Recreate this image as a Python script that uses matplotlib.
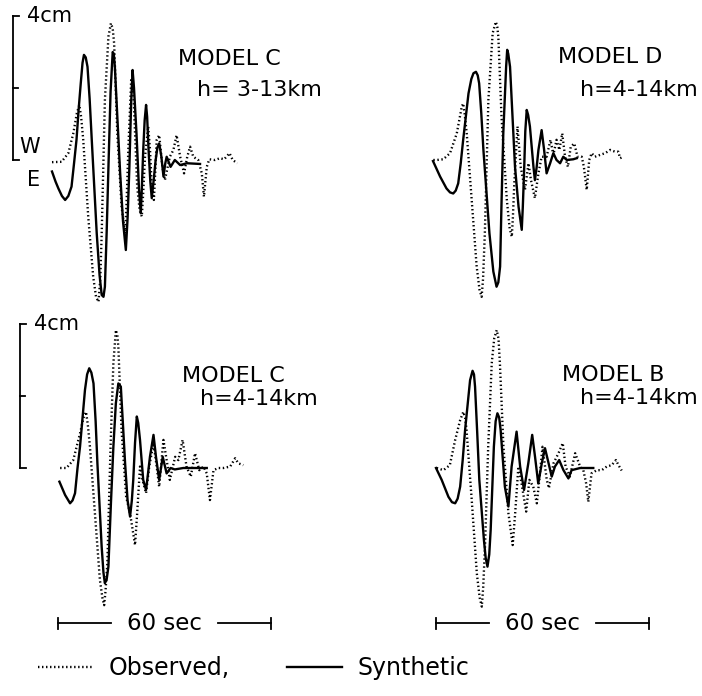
import numpy as np
import matplotlib.pyplot as plt
from matplotlib.lines import Line2D

# figure size in px, and the drawing scale of the traces
W, H = 702, 696
SX = 213 / 60.0   # px per second
SY = 36.0         # px per cm

# ---- Model C, h=3-13km  (time in s, displacement in cm) ----
c1_syn_t = [0, 1.0, 1.8, 2.8, 3.7, 4.6, 5.5, 6.2, 6.9, 7.5, 8.1, 8.6, 9.0, 9.5, 10.0, 10.6, 11.2,
            12.6, 13.4, 14.0, 14.5, 14.9, 15.4, 15.9, 16.5, 17.1, 17.4, 17.7, 18.4, 19.2, 20.0,
            20.8, 21.3, 21.8, 22.3, 22.7, 23.1, 23.8, 24.5, 25.0, 25.3, 25.7, 26.1, 26.5, 26.8,
            27.2, 27.7, 28.1, 28.6, 29.2, 29.7, 30.2, 30.8, 31.4, 31.9, 32.3, 33.4, 34.6, 36.1,
            38.0, 41.7]
c1_syn_a = [-0.32, -0.6, -0.79, -1.0, -1.11, -1.0, -0.74, -0.1, 0.56, 1.4, 2.13, 2.7, 2.92, 2.85,
            2.59, 1.7, 0.56, -2.04, -3.2, -3.75, -3.8, -3.52, -2.0, -0.19, 1.9, 3.0, 2.95, 2.6,
            1.2, -0.37, -1.7, -2.5, -1.6, -0.19, 1.6, 2.5, 2.0, 0.74, -0.8, -1.48, -0.8, 0.28,
            1.1, 1.53, 1.2, 0.28, -0.6, -1.06, -0.6, 0.0, 0.35, 0.46, 0.1, -0.46, -0.1, 0.09,
            -0.19, 0.0, -0.14, -0.09, -0.11]
c1_obs_t = [0, 2.7, 4.6, 6.0, 7.0, 7.7, 8.2, 8.8, 9.5, 10.2, 11.6, 12.4, 13.1, 13.6, 14.0, 14.9,
            15.9, 16.6, 17.1, 17.5, 18.4, 19.6, 20.6, 21.0, 21.5, 22.3, 22.7, 23.1, 24.0, 24.7,
            25.3, 25.7, 26.2, 27.1, 27.6, 28.1, 28.7, 29.1, 29.5, 30.2, 31.1, 31.8, 33.2, 34.2,
            35.1, 36.1, 37.2, 38.1, 38.9, 39.8, 41.2, 42.2, 42.8, 43.6, 44.3, 45.9, 47.3, 48.5,
            50.0, 50.9, 52.2]
c1_obs_a = [-0.06, -0.05, 0.19, 0.74, 1.3, 1.53, 1.2, 0.56, -0.5, -1.57, -3.24, -3.8, -3.94,
            -3.3, -2.04, 1.67, 3.43, 3.80, 3.65, 3.24, 0.74, -1.30, -2.04, -1.2, 0.28, 2.22, 2.1,
            1.48, -0.74, -1.4, -1.57, -0.9, 0.09, 0.93, 0.3, -0.74, -1.11, -0.3, 0.56, 0.69,
            -0.19, -0.56, 0.09, 0.28, 0.69, 0.09, -0.37, 0.09, 0.37, 0.09, 0.0, -0.37, -1.02,
            -0.19, 0.02, 0.0, 0.05, 0.02, 0.19, 0.0, -0.09]

# ---- Model D, h=4-14km ----
d_syn_t = [0, 2.0, 3.8, 4.8, 5.7, 6.4, 7.1, 7.8, 8.5, 10.0, 10.8, 11.4, 12.1, 12.6, 13.0, 13.6,
           14.2, 15.9, 17.0, 17.9, 18.4, 18.9, 19.3, 19.8, 20.6, 20.9, 21.2, 21.7, 22.4, 23.1,
           24.1, 25.0, 25.3, 25.7, 26.0, 26.4, 26.8, 27.3, 28.3, 28.7, 29.2, 29.7, 30.6, 31.3,
           32.0, 33.0, 33.9, 34.8, 35.8, 36.7, 37.7, 39.5, 40.5]
d_syn_a = [-0.03, -0.46, -0.79, -0.9, -0.93, -0.85, -0.65, -0.1, 0.56, 1.85, 2.25, 2.41, 2.45,
           2.35, 2.13, 1.3, 0.28, -2.04, -3.1, -3.52, -3.4, -2.96, -1.2, 0.74, 2.59, 3.06, 2.95,
           2.59, 1.2, -0.19, -1.3, -1.94, -1.3, -0.19, 0.8, 1.39, 1.25, 0.93, -0.19, -0.56, -0.2,
           0.28, 0.83, 0.28, -0.37, -0.09, 0.19, 0.0, -0.09, 0.09, 0.0, 0.02, 0.05]
d_obs_t = [0.1, 1.0, 2.9, 4.8, 6.7, 8.1, 8.5, 8.9, 9.5, 10.9, 12.3, 13.1, 13.7, 14.1, 14.6, 15.6,
           16.8, 17.7, 18.1, 18.4, 19.3, 20.8, 21.6, 22.2, 22.5, 22.9, 23.8, 24.7, 25.9, 26.9,
           27.6, 28.7, 29.7, 30.6, 32.0, 33.1, 33.9, 34.8, 35.6, 36.4, 37.2, 38.0, 38.8, 39.8,
           40.7, 41.9, 42.5, 43.3, 44.0, 44.7, 45.6, 47.0, 48.5, 49.9, 51.3, 52.2, 52.7, 53.6]
d_obs_a = [0.0, 0.0, 0.02, 0.19, 0.74, 1.48, 1.57, 1.3, 0.74, -1.11, -2.96, -3.6, -3.80, -3.3,
           -2.04, 1.67, 3.52, 3.84, 3.7, 3.43, 1.20, -1.11, -1.9, -2.13, -1.6, -0.65, 0.93, -0.19,
           -0.83, -0.09, -0.56, -1.06, -0.37, 0.09, 0.09, 0.56, 0.14, 0.56, 0.28, 0.74, 0.09,
           -0.19, 0.37, 0.46, 0.09, 0.09, -0.19, -0.83, 0.0, 0.19, 0.09, 0.14, 0.19, 0.28, 0.23,
           0.23, 0.05, 0.09]

# ---- Model C, h=4-14km ----
c2_syn_t = [0.4, 2.0, 3.4, 4.1, 4.8, 5.5, 6.2, 7.6, 8.2, 8.8, 9.4, 10.0, 10.6, 11.1, 12.3, 12.8,
            13.2, 13.7, 14.2, 14.9, 15.6, 16.3, 17.0, 17.7, 18.3, 18.9, 19.6, 20.3, 20.8, 21.2,
            21.7, 22.2, 22.6, 23.1, 24.0, 24.8, 25.3, 25.9, 26.9, 27.6, 28.5, 29.5, 30.6, 31.7,
            32.9, 35.3, 39.1, 41.9]
c2_syn_a = [-0.38, -0.75, -0.98, -0.9, -0.70, 0.0, 0.59, 2.17, 2.6, 2.77, 2.65, 2.35, 1.3, 0.13,
            -2.19, -2.9, -3.20, -3.1, -2.74, -1.0, 0.59, 1.8, 2.35, 2.26, 1.2, 0.13, -0.9, -1.35,
            -0.9, -0.33, 0.7, 1.43, 1.25, 0.78, -0.33, -0.61, -0.2, 0.31, 0.92, 0.31, -0.33, 0.31,
            -0.15, 0.0, -0.04, 0.0, 0.0, 0.0]
c2_obs_t = [0.6, 2.4, 4.3, 6.2, 7.2, 7.9, 8.4, 9.0, 10.4, 11.8, 12.5, 13.0, 13.4, 13.9, 14.8,
            15.6, 16.3, 16.7, 17.0, 17.9, 19.2, 20.3, 21.7, 22.3, 23.1, 23.8, 24.8, 25.7, 26.9,
            27.8, 28.5, 29.7, 30.6, 31.5, 33.0, 33.9, 35.1, 36.2, 37.4, 38.6, 39.8, 41.0, 41.9,
            42.8, 43.8, 45.2, 46.6, 48.5, 49.9, 50.8, 52.2]
c2_obs_a = [0.0, 0.0, 0.22, 0.96, 1.4, 1.56, 1.2, 0.59, -1.26, -3.11, -3.6, -3.81, -3.4, -2.65,
            0.59, 2.91, 3.83, 3.7, 3.37, 1.06, -0.80, -1.26, -2.14, -1.26, 0.04, -0.33, -0.70,
            0.04, 0.69, 0.04, -0.52, 0.78, 0.22, -0.33, 0.31, 0.22, 0.78, 0.04, -0.24, 0.41,
            -0.06, 0.04, -0.15, -0.89, -0.06, 0.0, 0.0, 0.04, 0.27, 0.13, 0.08]

# ---- Model B, h=4-14km ----
b_syn_t = [0, 1.6, 3.5, 4.5, 5.4, 6.1, 6.8, 7.5, 8.2, 9.6, 10.3, 10.7, 11.0, 11.6, 12.2, 13.5,
           14.0, 14.5, 15.0, 15.4, 16.3, 16.8, 17.3, 17.8, 18.2, 19.4, 20.4, 21.3, 22.7, 23.7,
           24.8, 26.0, 27.1, 27.9, 28.8, 29.8, 30.7, 31.5, 32.6, 33.5, 34.7, 35.9, 37.3, 38.2,
           40.6, 44.3]
b_syn_a = [0.0, -0.33, -0.80, -0.95, -0.98, -0.85, -0.52, 0.2, 1.06, 2.44, 2.70, 2.6, 2.26, 1.0,
           -0.33, -2.00, -2.5, -2.74, -2.4, -1.72, 0.59, 1.3, 1.52, 1.4, 1.06, -0.52, -1.07, 0.04,
           1.01, 0.04, -0.61, 0.13, 0.92, 0.31, -0.43, 0.13, 0.55, 0.22, -0.24, 0.04, 0.22, -0.06,
           -0.29, -0.06, 0.0, 0.0]
b_obs_t = [0.2, 2.1, 3.9, 5.4, 6.8, 7.7, 8.2, 8.6, 10.0, 11.5, 12.3, 12.9, 13.3, 13.8, 14.7,
           15.7, 16.4, 17.1, 17.6, 18.0, 19.0, 20.4, 21.6, 22.3, 23.2, 24.1, 25.4, 26.3, 27.4,
           28.4, 29.1, 30.0, 31.2, 31.8, 33.1, 34.5, 35.7, 36.5, 37.7, 39.2, 40.6, 41.5, 42.3,
           42.9, 43.8, 45.3, 46.7, 48.1, 49.5, 50.7, 51.4, 52.3]
b_obs_a = [0.0, -0.06, 0.08, 0.78, 1.33, 1.56, 1.4, 1.06, -0.80, -2.93, -3.6, -3.85, -3.3, -2.19,
           0.59, 2.91, 3.6, 3.83, 3.6, 2.91, 0.59, -1.26, -2.14, -1.26, 0.04, -0.43, -1.21, -0.33,
           -0.52, -0.98, -0.33, 0.59, -0.33, -0.56, 0.13, 0.41, 0.69, 0.04, -0.24, 0.41, 0.04,
           -0.06, -0.43, -0.94, -0.15, -0.06, -0.06, 0.04, 0.08, 0.22, 0.08, -0.07]

titles = ['MODEL C', 'MODEL D', 'MODEL C', 'MODEL B']
depths = ['h= 3-13km', 'h=4-14km', 'h=4-14km', 'h=4-14km']

plt.rcParams['font.family'] = 'DejaVu Sans'
fig = plt.figure(figsize=(W / 100, H / 100), dpi=100)

DOT = dict(color='k', lw=1.7, ls=(0, (0.6, 1.1)), dash_capstyle='butt', clip_on=False)
SOLID = dict(color='k', lw=1.7, clip_on=False, solid_joinstyle='round')


def panel(box, x0, y0):
    # box = left, top, right, bottom in px; (x0, y0) = px position of t=0, amp=0
    l, t, r, b = box
    ax = fig.add_axes([l / W, 1 - b / H, (r - l) / W, (b - t) / H])
    ax.set_xlim((l - x0) / SX, (r - x0) / SX)
    ax.set_ylim((y0 - b) / SY, (y0 - t) / SY)
    ax.axis('off')
    return ax


axes = [panel((0, 0, 351, 300), 52, 160),
        panel((351, 0, 702, 300), 433, 160),
        panel((0, 300, 351, 640), 58, 468),
        panel((351, 300, 702, 640), 436, 468)]

traces = [(c1_obs_t, c1_obs_a, c1_syn_t, c1_syn_a),
          (d_obs_t, d_obs_a, d_syn_t, d_syn_a),
          (c2_obs_t, c2_obs_a, c2_syn_t, c2_syn_a),
          (b_obs_t, b_obs_a, b_syn_t, b_syn_a)]

lab_pos = [(35.5, 2.80, 40.8, 1.95), (35.2, 2.85, 41.4, 1.95),
           (34.9, 2.55, 40.0, 1.92), (35.5, 2.58, 40.6, 1.95)]

for ax, (ot, oa, st, sa), ttl, dep, (x1, y1, x2, y2) in zip(axes, traces, titles, depths, lab_pos):
    ax.plot(ot, oa, **DOT)
    ax.plot(st, sa, **SOLID)
    ax.text(x1, y1, ttl, fontsize=16, va='center', ha='left')
    ax.text(x2, y2, dep, fontsize=16, va='center', ha='left')

# 4 cm scale brackets on the left panels
for ax, bx in [(axes[0], -11.0), (axes[2], -10.7)]:
    ax.plot([bx, bx], [0, 4], color='k', lw=1.3, clip_on=False)
    ax.plot([bx, bx + 1.8], [4, 4], color='k', lw=1.3, clip_on=False)
    ax.plot([bx, bx + 1.4], [2, 2], color='k', lw=1.3, clip_on=False)
    ax.plot([bx, bx + 1.8], [0, 0], color='k', lw=1.3, clip_on=False)
    ax.text(bx + 4.0, 4.0, '4cm', fontsize=15, va='center', ha='left')

axes[0].text(-6.2, 0.36, 'W', fontsize=15, va='center', ha='center')
axes[0].text(-5.1, -0.56, 'E', fontsize=15, va='center', ha='center')

# 60 s time bars
for ax in axes[2:]:
    yb = -4.31
    ax.plot([0, 15], [yb, yb], color='k', lw=1.3, clip_on=False)
    ax.plot([45, 60], [yb, yb], color='k', lw=1.3, clip_on=False)
    ax.plot([0, 0], [yb - 0.15, yb + 0.15], color='k', lw=1.3, clip_on=False)
    ax.plot([60, 60], [yb - 0.15, yb + 0.15], color='k', lw=1.3, clip_on=False)
    ax.text(30, yb, '60 sec', fontsize=16.5, va='center', ha='center')

handles = [Line2D([], [], **DOT), Line2D([], [], **SOLID)]
fig.legend(handles, ['Observed,', 'Synthetic'], loc='center left',
           bbox_to_anchor=(38 / W, 1 - 668 / H), ncol=2, frameon=False, fontsize=17,
           handlelength=2.33, handletextpad=0.64, columnspacing=2.45,
           borderpad=0, borderaxespad=0)

fig.savefig('out.png', dpi=100, facecolor='white')
